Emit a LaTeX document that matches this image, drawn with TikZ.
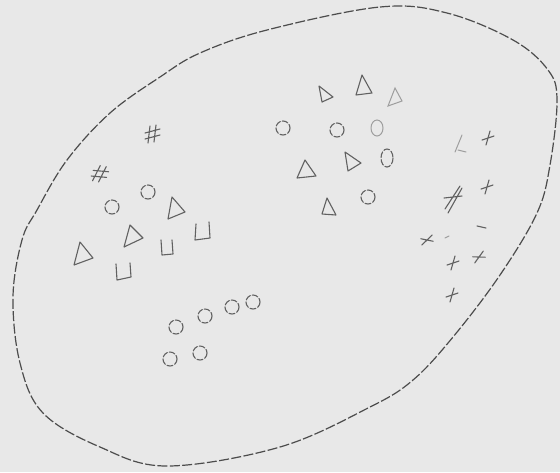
\documentclass[tikz,border=0pt]{standalone}
\begin{document}
\begin{tikzpicture}[x=0.5pt,y=-0.5pt,
  ink/.style={draw=black!62, line width=0.55pt, line cap=round, line join=round},
  faint/.style={draw=black!38, line width=0.5pt, line cap=round},
  outline/.style={draw=black!70, line width=0.6pt, dash pattern=on 5pt off 1.2pt},
  ring/.pic={\draw[ink, dash pattern=on 3pt off 1pt] (0,0) circle (7);},
  plus/.pic={\draw[ink] (-6,2)--(6,-2) (2,-7)--(-2,7);},
  hash/.pic={\draw[ink] (-8,-2)--(7,-6) (-8,4)--(7,0) (-3,-9)--(-5,8) (3,-10)--(1,7);}]
\fill[black!9] (0,0) rectangle (560,472);
\useasboundingbox (0,0) rectangle (560,472);
% outline
\draw[outline] plot[smooth cycle, tension=0.6] coordinates {
 (267,30) (380,7) (447,13) (513,40) (548,70) (557,100) (550,165) (537,213) (500,275)
 (453,337) (413,380) (370,407) (280,447) (167,466) (100,447) (43,413) (20,363)
 (13,297) (22,240) (37,210) (67,160) (110,113) (160,77) (200,53)};
% left group
\pic at (153,135) {hash};
\pic[rotate=-20] at (100,175) {hash};
\pic at (148,192) {ring};
\pic at (112,207) {ring};
\draw[ink] (168,219)--(172,197)--(185,212)--cycle;
\draw[ink] (130,225)--(143,238)--(124,247)--cycle;
\draw[ink] (80,242)--(74,265)--(93,258)--cycle;
\draw[ink] (196,224)--(195,240)--(210,238)--(209,222);
\draw[ink] (161,240)--(162,255)--(173,254)--(172,240);
\draw[ink] (116,264)--(117,280)--(131,277)--(130,263);
% middle group
\draw[ink] (319,86)--(322,102)--(333,97)--cycle;
\draw[ink] (356,95)--(362,75)--(372,93)--cycle;
\draw[faint] (388,106)--(395,88)--(402,101)--cycle;
\pic at (283,128) {ring};
\pic at (337,130) {ring};
\draw[faint] (377,128) ellipse (6 and 8);
\draw[ink] (297,178)--(305,160)--(316,176)--cycle;
\draw[ink] (345,152)--(361,163)--(348,171)--cycle;
\draw[ink, dash pattern=on 3pt off 1pt] (387,158) ellipse (6 and 9);
\draw[ink] (327,198)--(336,215)--(322,214)--cycle;
\pic at (368,197) {ring};
% right group
\draw[faint] (462,135)--(455,152) (458,150)--(466,152);
\pic at (488,138) {plus};
\pic at (487,187) {plus};
\draw[ink] (445,209)--(460,186) (448,213)--(462,188) (444,198)--(462,196);
\draw[ink] (477,226)--(486,228);
\pic[rotate=-30] at (427,240) {plus};
\draw[faint] (445,238)--(449,236);
\pic at (453,263) {plus};
\pic[rotate=-20] at (479,257) {plus};
\pic at (452,295) {plus};
% bottom group
\pic at (176,327) {ring};
\pic at (205,316) {ring};
\pic at (232,307) {ring};
\pic at (253,302) {ring};
\pic at (170,359) {ring};
\pic at (200,353) {ring};
\end{tikzpicture}
\end{document}
